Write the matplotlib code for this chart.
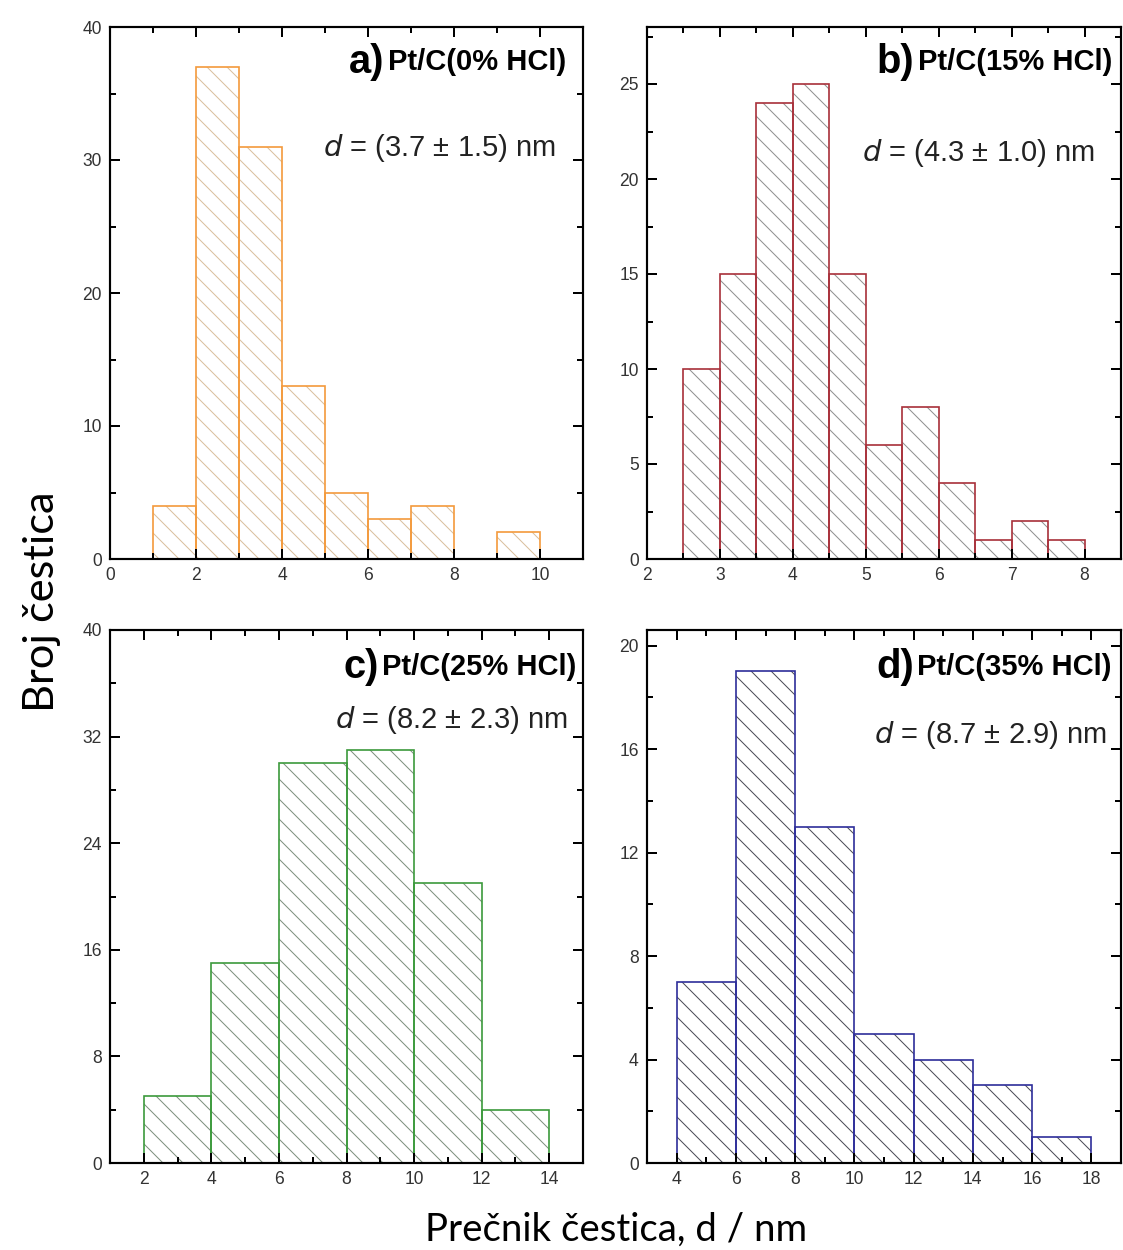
import numpy as np
import matplotlib.pyplot as plt
from matplotlib.ticker import MultipleLocator

# bin edges and counts
edges_a = [1, 2, 3, 4, 5, 6, 7, 8, 9, 10]
counts_a = [4, 37, 31, 13, 5, 3, 4, 0, 2]
edges_b = [2.5, 3.0, 3.5, 4.0, 4.5, 5.0, 5.5, 6.0, 6.5, 7.0, 7.5, 8.0]
counts_b = [10, 15, 24, 25, 15, 6, 8, 4, 1, 2, 1]
edges_c = [2, 4, 6, 8, 10, 12, 14]
counts_c = [5, 15, 30, 31, 21, 4]
edges_d = [4, 6, 8, 10, 12, 14, 16, 18]
counts_d = [7, 19, 13, 5, 4, 3, 1]

letters = ["a)", "b)", "c)", "d)"]
samples = ["Pt/C(0% HCl)", "Pt/C(15% HCl)", "Pt/C(25% HCl)", "Pt/C(35% HCl)"]
means = ["(3.7 ± 1.5) nm", "(4.3 ± 1.0) nm", "(8.2 ± 2.3) nm", "(8.7 ± 2.9) nm"]

plt.rcParams['font.family'] = ['Liberation Sans', 'DejaVu Sans']
plt.rcParams['hatch.linewidth'] = 0.6

DPI = 120
fig = plt.figure(figsize=(1123 / DPI, 1250 / DPI), dpi=DPI)

W, H = 1123, 1250
def box(l, t, r, b):
    return [l / W, 1 - b / H, (r - l) / W, (b - t) / H]

panels = [
    dict(edges=edges_a, counts=counts_a, rect=box(110, 27, 583, 559),
         xlim=(0, 11), ylim=(0, 40), xmaj=2, xmin=1, ymaj=10, ymin=5,
         edge='#f39a3c', hatch='#d9bf9c', lab=(0.965, 0.934), dpos=(0.943, 0.773)),
    dict(edges=edges_b, counts=counts_b, rect=box(647, 27, 1121, 559),
         xlim=(2, 8.5), ylim=(0, 28), xmaj=1, xmin=0.5, ymaj=5, ymin=2.5,
         edge='#a8303a', hatch='#8f8f8f', lab=(0.981, 0.934), dpos=(0.945, 0.763)),
    dict(edges=edges_c, counts=counts_c, rect=box(110, 630, 583, 1163),
         xlim=(1, 15), ylim=(0, 40), xmaj=2, xmin=1, ymaj=8, ymin=4,
         edge='#3c9a3c', hatch='#7d8f7d', lab=(0.987, 0.93), dpos=(0.968, 0.831)),
    dict(edges=edges_d, counts=counts_d, rect=box(647, 630, 1121, 1163),
         xlim=(3, 19), ylim=(0, 20.6), xmaj=2, xmin=1, ymaj=4, ymin=2,
         edge='#2e2e9a', hatch='#4a4a55', lab=(0.981, 0.93), dpos=(0.97, 0.803)),
]

for i, p in enumerate(panels):
    ax = fig.add_axes(p['rect'])
    e = np.array(p['edges'])
    w = np.diff(e)
    # hatch layer first, then the coloured outline on top
    ax.bar(e[:-1], p['counts'], width=w, align='edge', facecolor='white',
           edgecolor=p['hatch'], hatch='\\\\', linewidth=0)
    ax.bar(e[:-1], p['counts'], width=w, align='edge', fill=False,
           edgecolor=p['edge'], linewidth=1.0)
    ax.set_xlim(*p['xlim'])
    ax.set_ylim(*p['ylim'])
    ax.xaxis.set_major_locator(MultipleLocator(p['xmaj']))
    ax.xaxis.set_minor_locator(MultipleLocator(p['xmin']))
    ax.yaxis.set_major_locator(MultipleLocator(p['ymaj']))
    ax.yaxis.set_minor_locator(MultipleLocator(p['ymin']))
    ax.tick_params(which='both', direction='in', top=True, right=True,
                   width=1.2, labelsize=10.5, labelcolor='#333333')
    ax.tick_params(which='major', length=6, pad=5)
    ax.tick_params(which='minor', length=3.5)
    for s in ax.spines.values():
        s.set_linewidth(1.3)

    lx, ly = p['lab']
    t = ax.text(lx, ly, samples[i], transform=ax.transAxes, ha='right', va='center',
                fontsize=17.5, fontweight='bold')
    fig.canvas.draw()
    bb = t.get_window_extent().transformed(ax.transAxes.inverted())
    ax.text(bb.x0 - 0.008, ly, letters[i], transform=ax.transAxes, ha='right',
            va='center', fontsize=24, fontweight='bold')

    dx, dy = p['dpos']
    ax.text(dx, dy, r'$\it{d}$ = ' + means[i], transform=ax.transAxes,
            ha='right', va='center', fontsize=17.5, color='#222222')

fig.text(0.037, 0.519, 'Broj čestica', rotation=90, ha='center', va='center',
         fontsize=26, family=['Lato', 'DejaVu Sans'])
fig.text(0.549, 0.016, 'Prečnik čestica, d / nm', ha='center', va='center',
         fontsize=23, family=['Lato', 'DejaVu Sans'])

fig.savefig('out.png', dpi=DPI)
